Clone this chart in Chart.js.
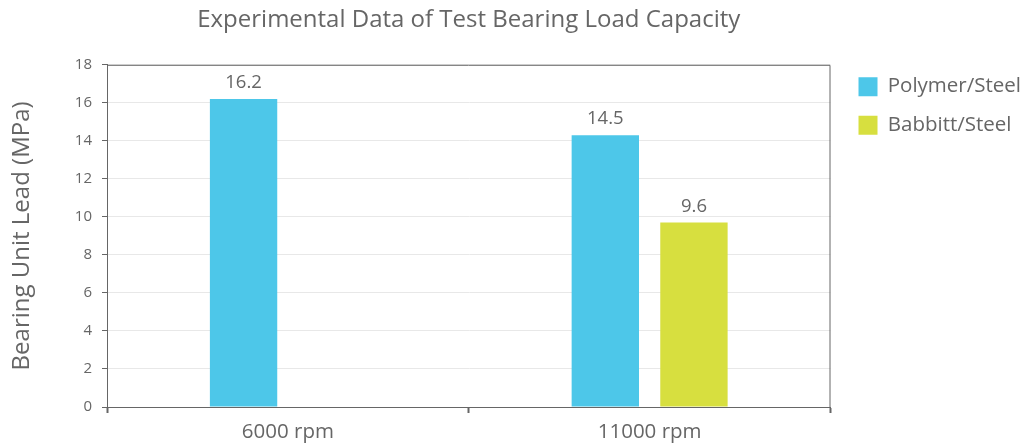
<!DOCTYPE html>
<html>
<head>
<meta charset="utf-8">
<script src="https://cdn.jsdelivr.net/npm/chart.js@4.4.0/dist/chart.umd.min.js"></script>
<style>
  html, body { margin: 0; padding: 0; background: #fff; }
  #wrap { width: 1032px; height: 443px; }
</style>
</head>
<body>
<div id="wrap"><canvas id="bar-chartcanvas"></canvas></div>
<script>
// categories and series
var speeds = ["6000 rpm", "11000 rpm"];
var polymerSteel = [16.2, 14.3];
var babbittSteel = [null, 9.7];
// printed value labels above the bars
var polymerLabels = ["16.2", "14.5"];
var babbittLabels = ["", "9.6"];
var yTicks = [0, 2, 4, 6, 8, 10, 12, 14, 16, 18];

var fontFamily = "'Open Sans', 'Noto Sans', sans-serif";
var textGrey = "#666666";
var legendGapPx = 10;

// value labels drawn over each bar
var valueLabels = {
    id: "valueLabels",
    afterDatasetsDraw: function(chart) {
        var ctx = chart.ctx;
        var labelSets = [polymerLabels, babbittLabels];
        ctx.save();
        ctx.font = "18.5px " + fontFamily;
        ctx.fillStyle = textGrey;
        ctx.textAlign = "center";
        ctx.textBaseline = "alphabetic";
        chart.data.datasets.forEach(function(ds, i) {
            var meta = chart.getDatasetMeta(i);
            meta.data.forEach(function(bar, j) {
                if (ds.data[j] == null) return;
                ctx.fillText(labelSets[i][j], bar.x, bar.y - 11);
            });
        });
        ctx.restore();
    }
};

// top and right edges of the plot frame
var frame = {
    id: "frame",
    afterDraw: function(chart) {
        var a = chart.chartArea;
        var ctx = chart.ctx;
        ctx.save();
        ctx.strokeStyle = "#666666";
        ctx.lineWidth = 1;
        ctx.beginPath();
        ctx.moveTo(a.left, a.top + 0.5);
        ctx.lineTo(a.right - 0.5, a.top + 0.5);
        ctx.lineTo(a.right - 0.5, a.bottom);
        ctx.stroke();
        ctx.restore();
    }
};

// a little extra room between the frame and the legend
var legendGap = {
    id: "legendGap",
    beforeLayout: function(chart) {
        var lg = chart.legend;
        if (lg && !lg._gapPatched) {
            var fit = lg.fit;
            lg.fit = function() {
                fit.call(this);
                this.width += legendGapPx;
            };
            lg._gapPatched = true;
        }
    },
    afterLayout: function(chart) {
        if (chart.legend) chart.legend.left += legendGapPx;
    }
};

var ctx = document.getElementById("bar-chartcanvas");

var data = {
    labels: speeds,
    datasets: [
        {
            label: "Polymer/Steel",
            data: polymerSteel,
            backgroundColor: "#4dc7e9",
            categoryPercentage: 0.49,
            barPercentage: 0.76
        },
        {
            label: "Babbitt/Steel",
            data: babbittSteel,
            backgroundColor: "#d7df3f",
            categoryPercentage: 0.49,
            barPercentage: 0.76
        }
    ]
};

var options = {
    responsive: true,
    maintainAspectRatio: false,
    animation: false,
    layout: {
        padding: { top: 6, right: 1, left: 8, bottom: 0 }
    },
    plugins: {
        title: {
            display: true,
            text: "Experimental Data of Test Bearing Load Capacity",
            fullSize: false,
            color: textGrey,
            font: { family: fontFamily, size: 24, weight: "normal" },
            padding: { top: 0, bottom: 30 }
        },
        legend: {
            position: "right",
            align: "start",
            title: {
                display: true,
                text: " ",
                font: { size: 12 },
                padding: { top: 38, bottom: 0 }
            },
            labels: {
                color: textGrey,
                font: { family: fontFamily, size: 20.5 },
                boxWidth: 19,
                boxHeight: 19,
                padding: 18
            }
        },
        tooltip: { enabled: false }
    },
    scales: {
        x: {
            afterFit: function(scale) { scale.height = 36; },
            grid: {
                drawOnChartArea: false,
                drawTicks: true,
                tickLength: 6,
                tickColor: "#666666",
                tickWidth: 2
            },
            border: { color: "#666666", width: 1 },
            ticks: {
                color: textGrey,
                font: { family: fontFamily, size: 20.5 },
                padding: 7
            }
        },
        y: {
            min: 0,
            max: 18,
            afterFit: function(scale) { scale.width = 99; },
            afterBuildTicks: function(scale) {
                scale.ticks = yTicks.map(function(v) { return { value: v }; });
            },
            grid: {
                color: "#e8e8e8",
                tickColor: "#666666",
                tickLength: 5
            },
            border: { color: "#666666", width: 1 },
            ticks: {
                color: textGrey,
                font: { family: fontFamily, size: 15 },
                padding: 10
            },
            title: {
                display: true,
                text: "Bearing Unit Lead (MPa)",
                color: textGrey,
                font: { family: fontFamily, size: 24 },
                padding: { top: 0, bottom: 0 }
            }
        }
    }
};

var chart = new Chart(ctx, {
    type: "bar",
    data: data,
    options: options,
    plugins: [valueLabels, frame, legendGap]
});
</script>
</body>
</html>
